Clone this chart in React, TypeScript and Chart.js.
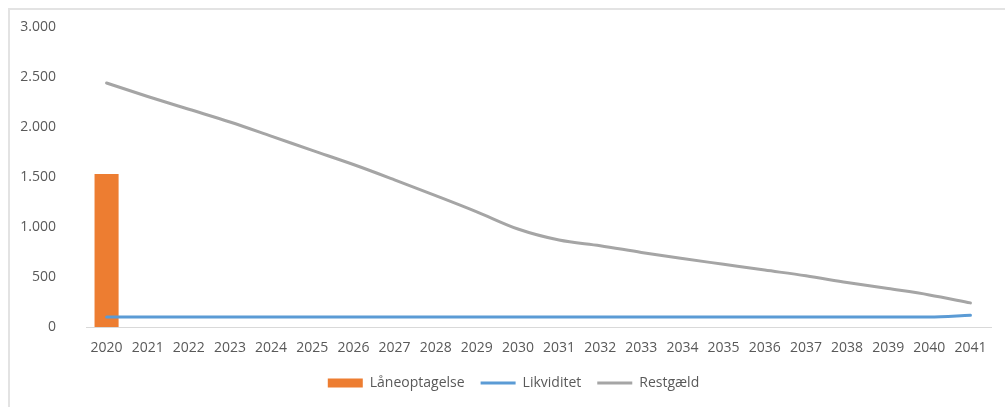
import React, { useEffect, useRef } from "react";
import { Chart, registerables } from "chart.js";

Chart.register(...registerables);

const years: string[] = [
  "2020", "2021", "2022", "2023", "2024", "2025", "2026", "2027", "2028", "2029", "2030",
  "2031", "2032", "2033", "2034", "2035", "2036", "2037", "2038", "2039", "2040", "2041",
];

const laneoptagelse: (number | null)[] = [
  1530, null, null, null, null, null, null, null, null, null, null,
  null, null, null, null, null, null, null, null, null, null, null,
];

const likviditet: number[] = [
  100, 100, 100, 100, 100, 100, 100, 100, 100, 100, 100,
  100, 100, 100, 100, 100, 100, 100, 100, 100, 100, 117,
];

const restgaeld: number[] = [
  2440, 2305, 2177, 2050, 1909, 1766, 1625, 1472, 1314, 1152, 980,
  870, 813, 746, 685, 627, 569, 512, 445, 384, 321, 241,
];

const yTicks: number[] = [0, 500, 1000, 1500, 2000, 2500, 3000];

const fmt = (v: number) => String(v).replace(/\B(?=(\d{3})+(?!\d))/g, ".");

const FONT = "'Open Sans', 'Noto Sans', sans-serif";
const TEXT = "#595959";

const legendShift = {
  id: "legendShift",
  afterLayout(chart: any) {
    if (chart.legend) {
      chart.legend.left += 13;
      chart.legend.right += 13;
    }
  },
};

export default function App() {
  const ref = useRef<HTMLCanvasElement | null>(null);

  useEffect(() => {
    if (!ref.current) return;
    const chart = new Chart(ref.current, {
      type: "bar",
      data: {
        labels: years,
        datasets: [
          {
            type: "bar",
            label: "Låneoptagelse",
            data: laneoptagelse,
            backgroundColor: "#ED7D31",
            borderWidth: 0,
            barPercentage: 1,
            categoryPercentage: 0.585,
            order: 2,
          },
          {
            type: "line",
            label: "Likviditet",
            data: likviditet,
            borderColor: "#5B9BD5",
            backgroundColor: "#5B9BD5",
            borderWidth: 3,
            pointRadius: 0,
            cubicInterpolationMode: "monotone",
            borderCapStyle: "round",
            order: 1,
          },
          {
            type: "line",
            label: "Restgæld",
            data: restgaeld,
            borderColor: "#A5A5A5",
            backgroundColor: "#A5A5A5",
            borderWidth: 3,
            pointRadius: 0,
            cubicInterpolationMode: "monotone",
            borderCapStyle: "round",
            order: 0,
          },
        ],
      } as any,
      options: {
        responsive: false,
        animation: false,
        layout: { padding: { left: 0, right: 14, top: 17, bottom: 7 } },
        plugins: {
          tooltip: { enabled: false },
          legend: {
            position: "bottom",
            labels: {
              usePointStyle: true,
              pointStyleWidth: 35,
              boxHeight: 9,
              padding: 16,
              color: TEXT,
              font: { family: FONT, size: 14 },
              sort: (a: any, b: any) => a.datasetIndex - b.datasetIndex,
              generateLabels: (ch: any) => {
                const items = Chart.defaults.plugins.legend.labels.generateLabels(ch);
                return items.map((it: any) => ({
                  ...it,
                  pointStyle: it.datasetIndex === 0 ? "rect" : "line",
                  lineCap: "butt",
                }));
              },
            },
          },
        },
        scales: {
          x: {
            offset: true,
            grid: { display: false, drawTicks: false },
            border: { display: true, color: "#D9D9D9", width: 1 },
            ticks: {
              color: TEXT,
              font: { family: FONT, size: 14 },
              padding: 13,
              maxRotation: 0,
              autoSkip: false,
            },
            afterFit: (s: any) => {
              s.height = 33;
            },
          },
          y: {
            min: 0,
            max: 3000,
            grid: { display: false, drawTicks: false },
            border: { display: false },
            afterBuildTicks: (s: any) => {
              s.ticks = yTicks.map((v) => ({ value: v }));
            },
            ticks: {
              color: TEXT,
              font: { family: FONT, size: 14 },
              padding: 30,
              callback: (v: any) => fmt(Number(v)),
            },
            afterFit: (s: any) => {
              s.width = 76;
              s.paddingTop = 9;
              s.paddingBottom = 9;
            },
          },
        },
      } as any,
      plugins: [legendShift],
    });
    return () => chart.destroy();
  }, []);

  return (
    <div
      style={{
        position: "fixed",
        left: 8,
        top: 8,
        width: 997,
        height: 399,
        borderTop: "2px solid #E3E3E3",
        borderLeft: "2px solid #E3E3E3",
        boxSizing: "border-box",
        background: "#fff",
      }}
    >
      <canvas ref={ref} width={995} height={397} style={{ display: "block" }} />
    </div>
  );
}
